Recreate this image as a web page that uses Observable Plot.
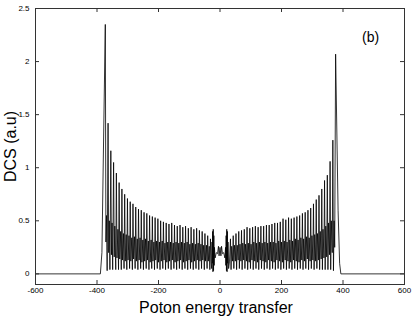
<!DOCTYPE html>
<html>
<head>
<meta charset="utf-8">
<script src="https://cdn.jsdelivr.net/npm/d3@7"></script>
<script src="https://cdn.jsdelivr.net/npm/@observablehq/plot@0.6"></script>
<style>
  html, body { margin: 0; padding: 0; background: #fff; }
  #chart svg { display: block; }
</style>
</head>
<body>
<div id="chart"></div>
<script>
// [photon energy transfer, DCS]
const wingLeft = [
  [-600,0],[-389,0],[-384,0.2],[-373,2.35],[-371,0.30],[-369,0.55],[-367,0.03],
  [-364,1.42],[-362,0.20],[-360,0.50],[-358,0.04],
  [-355,1.16],[-353,0.18],[-351,0.48],[-349,0.04],
  [-346,1.05],[-344,0.16],[-342,0.45],[-339,0.04],
  [-337,0.95],[-335,0.15],[-332,0.42],[-330,0.04],
  [-328,0.86],[-326,0.14],[-323,0.40],[-321,0.04],
  [-319,0.80],[-317,0.13],[-314,0.38],[-312,0.05],
  [-310,0.75],[-308,0.12],[-305,0.37],[-303,0.04],
  [-301,0.71],[-299,0.13],[-296,0.36],[-294,0.05],
  [-292,0.68],[-290,0.12],[-287,0.34],[-285,0.04],
  [-283,0.66],[-281,0.14],[-278,0.35],[-276,0.05],
  [-274,0.63],[-272,0.12],[-269,0.33],[-267,0.04],
  [-265,0.61],[-263,0.13],[-260,0.34],[-258,0.05],
  [-256,0.60],[-254,0.11],[-251,0.32],[-249,0.04],
  [-247,0.58],[-245,0.12],[-242,0.33],[-240,0.05],
  [-238,0.57],[-236,0.13],[-233,0.31],[-231,0.04],
  [-229,0.55],[-227,0.11],[-224,0.32],[-222,0.05],
  [-220,0.54],[-218,0.12],[-215,0.30],[-213,0.04],
  [-211,0.53],[-209,0.13],[-206,0.31],[-204,0.05],
  [-202,0.52],[-200,0.11],[-197,0.30],[-195,0.04],
  [-193,0.50],[-191,0.12],[-188,0.31],[-186,0.05],
  [-184,0.49],[-182,0.13],[-179,0.29],[-177,0.04],
  [-175,0.48],[-173,0.11],[-170,0.30],[-168,0.05],
  [-166,0.47],[-164,0.12],[-161,0.30],[-159,0.04],
  [-157,0.48],[-155,0.13],[-152,0.29],[-150,0.05],
  [-148,0.46],[-146,0.11],[-143,0.30],[-141,0.04],
  [-139,0.45],[-137,0.12],[-134,0.29],[-132,0.05],
  [-130,0.46],[-128,0.13],[-125,0.30],[-123,0.04],
  [-121,0.44],[-119,0.11],[-116,0.29],[-114,0.05],
  [-112,0.45],[-110,0.12],[-107,0.30],[-105,0.04],
  [-103,0.43],[-101,0.13],[-98,0.28],[-96,0.05],
  [-94,0.44],[-92,0.11],[-89,0.29],[-87,0.04],
  [-85,0.42],[-83,0.12],[-80,0.28],[-78,0.05],
  [-76,0.43],[-74,0.13],[-71,0.29],[-69,0.04],
  [-67,0.41],[-65,0.12],[-62,0.28],[-60,0.05],
  [-58,0.40],[-56,0.13],[-53,0.27],[-51,0.04],
  [-49,0.38],[-47,0.12],[-44,0.27],[-42,0.05],
  [-40,0.36],[-38,0.12],[-35,0.26],[-33,0.04],
  [-31,0.33],[-29,0.12],[-27,0.05]
];

const centre = [
  [-26,0.30],[-25,0.10],[-24,0.40],[-23,0.02],[-22,0.42],[-21,0.03],[-20,0.36],[-19,0.08],
  [-18,0.25],[-16,0.15],[-12,0.20],[-8,0.19],[-5,0.26],[-3,0.17],[0,0.25],[3,0.17],[5,0.26],
  [8,0.19],[12,0.20],[16,0.15],[18,0.25],[19,0.08],[20,0.36],[21,0.03],[22,0.42],[23,0.02],
  [24,0.40],[25,0.10],[26,0.30]
];

const wingRight = [
  [28,0.05],[31,0.12],[34,0.33],
  [36,0.04],[38,0.26],[41,0.12],[43,0.36],
  [45,0.05],[47,0.27],[50,0.12],[52,0.38],
  [54,0.04],[56,0.27],[59,0.13],[61,0.40],
  [63,0.05],[65,0.28],[68,0.12],[70,0.41],
  [72,0.04],[74,0.29],[77,0.13],[79,0.42],
  [81,0.05],[83,0.28],[86,0.12],[88,0.44],
  [90,0.04],[92,0.29],[95,0.11],[97,0.43],
  [99,0.05],[101,0.28],[104,0.13],[106,0.44],
  [108,0.04],[110,0.30],[113,0.12],[115,0.45],
  [117,0.05],[119,0.29],[122,0.11],[124,0.44],
  [126,0.04],[128,0.30],[131,0.13],[133,0.45],
  [135,0.05],[137,0.29],[140,0.12],[142,0.45],
  [144,0.04],[146,0.30],[149,0.11],[151,0.46],
  [153,0.05],[155,0.29],[158,0.13],[160,0.46],
  [162,0.04],[164,0.30],[167,0.12],[169,0.47],
  [171,0.05],[173,0.30],[176,0.11],[178,0.48],
  [180,0.04],[182,0.29],[185,0.13],[187,0.48],
  [189,0.05],[191,0.31],[194,0.12],[196,0.49],
  [198,0.04],[200,0.30],[203,0.11],[205,0.52],
  [207,0.05],[209,0.31],[212,0.13],[214,0.51],
  [216,0.04],[218,0.30],[221,0.12],[223,0.53],
  [225,0.05],[227,0.32],[230,0.11],[232,0.52],
  [234,0.04],[236,0.31],[239,0.13],[241,0.53],
  [243,0.05],[245,0.33],[248,0.12],[250,0.54],
  [252,0.04],[254,0.32],[257,0.11],[259,0.55],
  [261,0.05],[263,0.34],[266,0.13],[268,0.57],
  [270,0.04],[272,0.33],[275,0.12],[277,0.58],
  [279,0.05],[281,0.35],[284,0.14],[286,0.60],
  [288,0.04],[290,0.34],[293,0.12],[295,0.62],
  [297,0.05],[299,0.36],[302,0.13],[304,0.66],
  [306,0.04],[308,0.37],[311,0.12],[313,0.70],
  [315,0.05],[317,0.38],[320,0.13],[322,0.74],
  [324,0.04],[326,0.40],[329,0.14],[331,0.80],
  [333,0.04],[335,0.42],[338,0.15],[340,0.88],
  [342,0.04],[344,0.45],[347,0.16],[349,0.93],
  [351,0.04],[353,0.48],[356,0.18],[358,1.06],
  [360,0.04],[362,0.50],[365,0.20],[367,1.26],
  [369,0.03],[371,0.50],[373,0.25],[376,2.07],
  [384,0.6],[389,0.1],[393,0],[600,0]
];

const xTicks = [-600,-400,-200,0,200,400,600];
const yTicks = [0,0.5,1,1.5,2,2.5];
const xLabel = "Poton energy transfer";
const yLabel = "DCS (a.u)";
const panelLabel = [{x: 490, y: 2.23, text: "(b)"}];

const data = [...wingLeft, ...centre, ...wingRight].map(([x, y]) => ({x, y}));

const W = 415, H = 319, mL = 35, mR = 11, mT = 8, mB = 35;
const innerW = W - mL - mR, innerH = H - mT - mB;
const tick = 4;

const chart = Plot.plot({
  width: W, height: H,
  marginLeft: mL, marginRight: mR, marginTop: mT, marginBottom: mB,
  style: {fontFamily: "'Liberation Sans', Arial, Helvetica, sans-serif", background: "#fff", color: "#000"},
  x: {domain: [-600, 600]},
  y: {domain: [-0.1, 2.5]},
  marks: [
    Plot.line(data, {x: "x", y: "y", stroke: "#000", strokeWidth: 0.8, strokeLinejoin: "miter", strokeMiterlimit: 2}),
    Plot.frame({stroke: "#333", strokeWidth: 1}),
    // inward ticks on all four sides
    Plot.ruleX(xTicks, {x: d => d, insetTop: innerH - tick, stroke: "#333"}),
    Plot.ruleX(xTicks, {x: d => d, insetBottom: innerH - tick, stroke: "#333"}),
    Plot.ruleY(yTicks, {y: d => d, insetRight: innerW - tick, stroke: "#333"}),
    Plot.ruleY(yTicks, {y: d => d, insetLeft: innerW - tick, stroke: "#333"}),
    Plot.axisX(xTicks, {anchor: "bottom", tickSize: 0, tickPadding: 3, fontSize: 8, label: null, tickFormat: d => String(d)}),
    Plot.axisY(yTicks, {anchor: "left", tickSize: 0, tickPadding: 6, fontSize: 8, label: null, tickFormat: d => String(d)}),
    Plot.text([xLabel], {frameAnchor: "bottom", dy: 23, dx: -4, fontSize: 16, textAnchor: "middle", lineAnchor: "middle", text: d => d}),
    Plot.text([yLabel], {frameAnchor: "left", dx: -25, rotate: -90, fontSize: 16, textAnchor: "middle", lineAnchor: "middle", text: d => d}),
    Plot.text(panelLabel, {x: "x", y: "y", text: "text", fontSize: 14})
  ]
});
document.getElementById("chart").appendChild(chart);
</script>
</body>
</html>
